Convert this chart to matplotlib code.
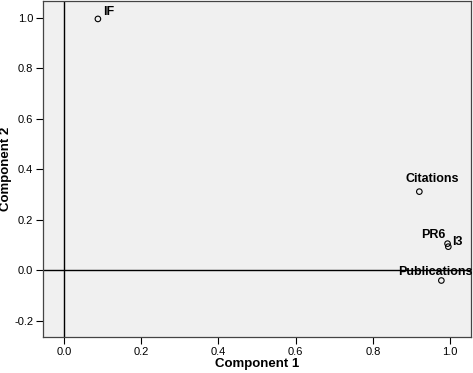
import matplotlib
matplotlib.use('Agg')
import matplotlib.pyplot as plt

plt.rcParams['font.family'] = ['Liberation Sans', 'DejaVu Sans']
plt.rcParams['axes.unicode_minus'] = False

names = ['IF', 'Citations', 'PR6', 'I3', 'Publications']
comp1 = [0.088, 0.920, 0.993, 0.995, 0.977]
comp2 = [0.996, 0.312, 0.106, 0.094, -0.040]
# label offsets in points
offsets = [(4, 3), (-10, 7), (-19, 4), (3, 1), (-31, 4)]

fig = plt.figure(figsize=(4.73, 3.73), dpi=100)
ax = fig.add_axes([0.091, 0.097, 0.905, 0.901])
ax.set_facecolor('#f0f0f0')

ax.scatter(comp1, comp2, s=16, facecolors='none', edgecolors='black', linewidths=0.8, zorder=3)
for n, x, y, off in zip(names, comp1, comp2, offsets):
    ax.annotate(n, (x, y), xytext=off, textcoords='offset points',
                fontsize=9, fontweight='bold', zorder=4)

ax.axhline(0, color='black', lw=1)
ax.axvline(0, color='black', lw=1)

ax.set_xlim(-0.054, 1.054)
ax.set_ylim(-0.263, 1.068)
ax.set_xticks([0.0, 0.2, 0.4, 0.6, 0.8, 1.0])
ax.set_yticks([-0.2, 0.0, 0.2, 0.4, 0.6, 0.8, 1.0])
ax.tick_params(labelsize=8, length=5, width=0.8, pad=2)
ax.set_xlabel('Component 1', fontsize=9.5, fontweight='bold', labelpad=1)
ax.set_ylabel('Component 2', fontsize=9.5, fontweight='bold')
ax.yaxis.set_label_coords(-0.072, 0.5)
for s in ax.spines.values():
    s.set_color('#444444')
    s.set_linewidth(0.9)

fig.savefig('out.png', dpi=100)
